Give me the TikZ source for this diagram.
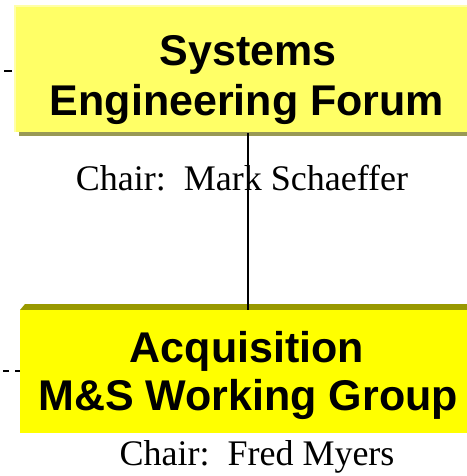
\documentclass[tikz,border=0pt]{standalone}
\usepackage{fontspec}
\setmainfont{Liberation Serif}
\newfontfamily\arialfont{Liberation Sans}
\definecolor{paleyellow}{HTML}{FFFF66}
\definecolor{paleedge}{HTML}{FFFFA8}
\definecolor{shadowolive}{HTML}{999955}
\definecolor{brightyellow}{HTML}{FFFF00}
\definecolor{bevelolive}{HTML}{999900}
\tikzset{
  titletext/.style={font=\arialfont\bfseries\fontsize{43}{49}\selectfont, inner sep=0pt, anchor=base},
  chairtext/.style={font=\fontsize{36}{40}\selectfont, inner sep=0pt, anchor=base},
  boxshape/.style={rectangle, inner sep=0pt, anchor=north west},
  sideline/.style={line width=1.5pt, black}
}
\begin{document}
\begin{tikzpicture}[x=1pt,y=-1pt]
\useasboundingbox (0,0) rectangle (466,476);
% top box with shadow and pale edge
\fill[shadowolive] (19,131) rectangle (482,135.5);
\node[boxshape, fill=paleedge, minimum width=468pt, minimum height=127pt] (sefedge) at (14,5) {};
\node[boxshape, fill=paleyellow, minimum width=466pt, minimum height=125pt] (sefbox) at (16,7) {};
\node[titletext] (sef1) at (248,66) {Systems};
\node[titletext] (sef2) at (247,115) {Engineering Forum};
\node[chairtext] (sefchair) at (242,190) {Chair:\ \ Mark Schaeffer};
% bottom box with bevel
\fill[bevelolive] (20,310) -- (25,304) -- (482,304) -- (482,310) -- cycle;
\node[boxshape, fill=brightyellow, minimum width=462pt, minimum height=123pt] (amsbox) at (20,310) {};
\node[titletext] (ams1) at (247,362) {Acquisition};
\node[titletext] (ams2) at (248,410) {M\&S Working Group};
\node[chairtext] (amschair) at (257,465) {Chair:\ \ Fred Myers};
% connector
\draw[line width=2pt] (248,133) coordinate (cstart) -- (cstart |- amsbox.north);
% left stubs
\coordinate (sefout) at (4,71);
\coordinate (amsout) at (3,371);
\draw[sideline, dash pattern=on 0pt off 2pt on 8pt off 100pt] (sefout -| sefedge.west) -- (sefout);
\draw[sideline, dash pattern=on 5pt off 6pt on 6pt off 6pt] (amsout -| amsbox.west) -- (amsout);
\end{tikzpicture}
\end{document}
